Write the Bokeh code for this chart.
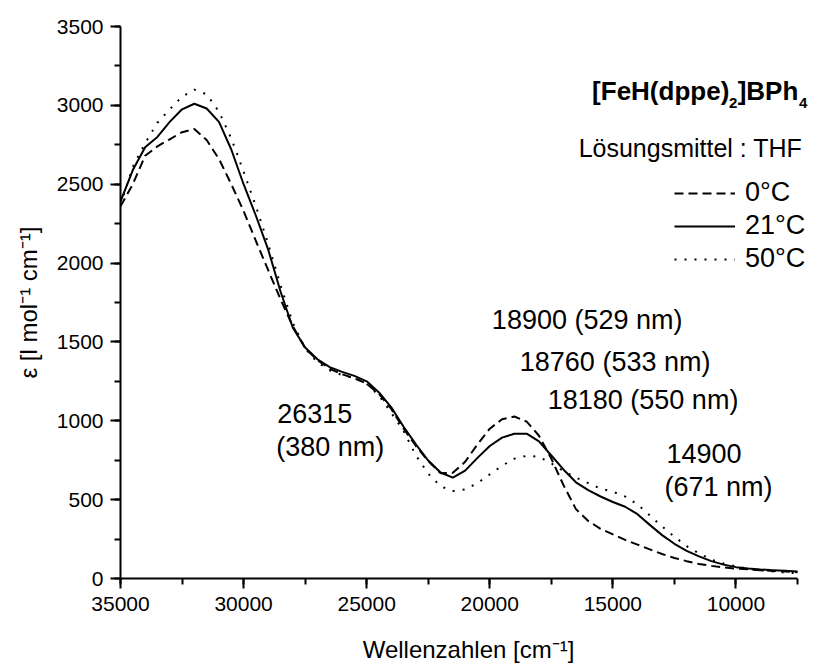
from bokeh.plotting import figure
from bokeh.models import Range1d, SingleIntervalTicker, Label, Legend, LegendItem
from bokeh.embed import file_html
from bokeh.resources import INLINE

# ---- data ----
wavenumber = [35000, 34500, 34000, 33500, 33000, 32500, 32000, 31500, 31000, 30500,
              30000, 29500, 29000, 28500, 28000, 27500, 27000, 26500, 26000, 25500,
              25000, 24500, 24000, 23500, 23000, 22500, 22000, 21500, 21000, 20500,
              20000, 19500, 19000, 18500, 18000, 17500, 17000, 16500, 16000, 15500,
              15000, 14500, 14000, 13500, 13000, 12500, 12000, 11500, 11000, 10500,
              10000, 9500, 9000, 8500, 8000, 7500]

eps_0C = [2360, 2500, 2680, 2740, 2785, 2830, 2850, 2780, 2660, 2500,
          2330, 2140, 1955, 1770, 1600, 1460, 1385, 1330, 1295, 1270,
          1235, 1170, 1075, 950, 840, 745, 668, 670, 740, 850,
          950, 1010, 1027, 995, 905, 760, 590, 440, 365, 315,
          280, 245, 215, 185, 155, 130, 110, 92, 80, 70,
          63, 58, 53, 48, 44, 40]

eps_21C = [2390, 2590, 2735, 2800, 2895, 2975, 3010, 2980, 2895, 2720,
           2500, 2300, 2085, 1820, 1590, 1465, 1390, 1340, 1310, 1285,
           1250, 1180, 1085, 962, 850, 748, 672, 640, 684, 765,
           840, 893, 918, 918, 870, 780, 690, 610, 560, 520,
           485, 455, 408, 340, 275, 220, 175, 140, 110, 88,
           72, 63, 57, 53, 49, 45]

eps_50C = [2370, 2610, 2760, 2890, 2975, 3055, 3100, 3070, 2960, 2790,
           2580, 2360, 2120, 1860, 1620, 1460, 1370, 1320, 1290, 1270,
           1235, 1160, 1050, 935, 780, 665, 585, 555, 565, 605,
           660, 715, 760, 778, 772, 730, 680, 640, 605, 570,
           550, 520, 470, 400, 330, 265, 205, 160, 120, 95,
           76, 62, 52, 45, 38, 33]

series_labels = ["0°C", "21°C", "50°C"]

# annotation texts and their anchor (data units, left aligned, vertically centred)
annot_text = ["18900 (529 nm)", "18760 (533 nm)", "18180 (550 nm)",
              "14900", "(671 nm)", "26315", "(380 nm)"]
annot_x = [19915, 18780, 17645, 12819, 12900, 28634, 28674]
annot_y = [1636, 1370, 1129, 793, 577, 1046, 831]

FONT = "Liberation Sans"

# x axis runs 35000 -> 7500; the frame is a little wider on the right so the
# legend title can extend past the axis end (axis itself is bounded).
p = figure(width=818, height=669,
           x_range=Range1d(35000, 6728), y_range=Range1d(0, 3500),
           output_backend="svg", toolbar_location=None,
           min_border_left=120, min_border_right=2,
           min_border_top=26, min_border_bottom=91)

p.background_fill_color = "white"
p.border_fill_color = "white"
p.outline_line_color = None
p.xgrid.visible = False
p.ygrid.visible = False

r0 = p.line(wavenumber, eps_0C, line_color="black", line_width=2, line_dash="9 5")
r1 = p.line(wavenumber, eps_21C, line_color="black", line_width=2)
r2 = p.line(wavenumber, eps_50C, line_color="black", line_width=2, line_dash="2 8")

# axes
p.xaxis.ticker = SingleIntervalTicker(interval=5000, num_minor_ticks=2)
p.yaxis.ticker = SingleIntervalTicker(interval=500, num_minor_ticks=2)
p.xaxis.bounds = (7500, 35000)
for ax in (p.xaxis, p.yaxis):
    ax.axis_line_width = 2
    ax.axis_line_color = "black"
    ax.major_tick_line_width = 2
    ax.minor_tick_line_width = 2
    ax.major_tick_line_color = "black"
    ax.minor_tick_line_color = "black"
    ax.major_tick_in = 0
    ax.major_tick_out = 10
    ax.minor_tick_in = 0
    ax.minor_tick_out = 6
    ax.major_label_text_font = FONT
    ax.major_label_text_font_size = "21px"
    ax.major_label_text_color = "black"
    ax.axis_label_text_font = FONT
    ax.axis_label_text_font_size = "24px"
    ax.axis_label_text_font_style = "normal"
    ax.axis_label_text_color = "black"

p.xaxis.axis_label = "Wellenzahlen [cm⁻¹]"
p.yaxis.axis_label = "ε [l mol⁻¹ cm⁻¹]"
p.xaxis.major_label_standoff = 8
p.xaxis.axis_label_standoff = 22
p.yaxis.major_label_standoff = 7
p.yaxis.axis_label_standoff = 12

# legend
legend = Legend(items=[LegendItem(label=series_labels[0], renderers=[r0]),
                       LegendItem(label=series_labels[1], renderers=[r1]),
                       LegendItem(label=series_labels[2], renderers=[r2])],
                location=(554, 304), orientation="vertical",
                background_fill_alpha=0, border_line_alpha=0,
                padding=0, margin=0, spacing=2,
                glyph_width=61, glyph_height=28, label_height=28,
                label_standoff=10,
                label_text_font=FONT, label_text_font_size="27px",
                label_text_color="black")
p.add_layout(legend)

# title of the legend block: [FeH(dppe)2]BPh4 (pieces for subscripts)
TX, TY, TYS = 7102, 3088, 3018
title_parts = [("4", 0, TYS, "15px"), ("]BPh", -9, TY, "26px"),
               ("2", -70, TYS, "15px"), ("[FeH(dppe)", -78, TY, "26px")]
for txt, off, yy, fs in title_parts:
    p.add_layout(Label(x=TX, y=yy, x_offset=off, text=txt, text_align="right",
                       text_baseline="middle", text_font=FONT, text_font_size=fs,
                       text_font_style="bold", text_color="black"))

p.add_layout(Label(x=7304, y=2727, text="Lösungsmittel : THF", text_align="right",
                   text_baseline="middle", text_font=FONT, text_font_size="25px",
                   text_color="black"))

for t, ax_, ay_ in zip(annot_text, annot_x, annot_y):
    p.add_layout(Label(x=ax_, y=ay_, text=t, text_align="left", text_baseline="middle",
                       text_font=FONT, text_font_size="27px", text_color="black"))

open("out.html", "w").write(file_html(p, INLINE))
